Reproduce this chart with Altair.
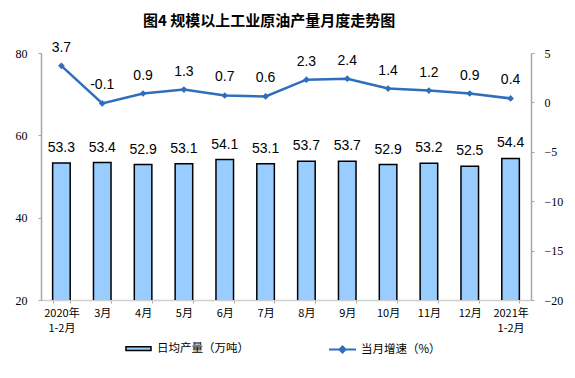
import altair as alt
import pandas as pd

categories = ["2020年\n1-2月", "3月", "4月", "5月", "6月", "7月", "8月", "9月",
              "10月", "11月", "12月", "2021年\n1-2月"]
output = [53.3, 53.4, 52.9, 53.1, 54.1, 53.1, 53.7, 53.7, 52.9, 53.2, 52.5, 54.4]
growth = [3.7, -0.1, 0.9, 1.3, 0.7, 0.6, 2.3, 2.4, 1.4, 1.2, 0.9, 0.4]

bar_name = "日均产量（万吨）"
line_name = "当月增速（%）"
blue = "#2f6dbd"
bar_fill = "#99ccff"

df = pd.DataFrame({"cat": categories, "output": output, "growth": growth,
                   "s_bar": bar_name, "s_line": line_name})

x_enc = alt.X(
    "cat:N", sort=categories, title=None,
    scale=alt.Scale(paddingInner=0.57),
    axis=alt.Axis(labelAngle=0, labelExpr="split(datum.label, '\\n')",
                  tickBand="extent", tickSize=3, tickColor="#a6a6a6",
                  domainColor="#cfcfcf", labelFont="Noto Sans CJK SC",
                  labelFontSize=11, labelColor="#000000", labelLineHeight=15,
                  labelPadding=4, labelOverlap=False),
)

y_left = alt.Scale(domain=[20, 80])
y_right = alt.Scale(domain=[-20, 5])

left_axis = alt.Axis(values=[20, 40, 60, 80], grid=False, tickSize=3,
                     domainColor="#a6a6a6", tickColor="#a6a6a6",
                     labelFont="Liberation Serif", labelFontSize=12,
                     labelColor="#000000", labelPadding=11)
right_axis = alt.Axis(orient="right", values=[-20, -15, -10, -5, 0, 5], grid=False,
                      tickSize=3, domainColor="#a6a6a6", tickColor="#a6a6a6",
                      labelFont="Liberation Serif", labelFontSize=12,
                      labelColor="#000000", labelPadding=10)

base = alt.Chart(df)

bars = base.mark_bar(stroke="black", strokeWidth=1.5, clip=True).encode(
    x=x_enc,
    y=alt.Y("output:Q", scale=y_left, title=None, axis=left_axis),
    fill=alt.Fill("s_bar:N", scale=alt.Scale(range=[bar_fill]),
                  legend=alt.Legend(title=None, orient="none", legendX=84, legendY=282,
                                    symbolType="M-1,-0.15H1V0.15H-1Z", symbolSize=625,
                                    symbolStrokeColor="black", symbolStrokeWidth=1.5,
                                    labelFont="Noto Sans CJK SC", labelFontSize=11.5,
                                    labelOffset=5, padding=0)),
)

bar_text = base.mark_text(dy=-8, baseline="bottom", font="Liberation Sans",
                          fontSize=14, color="black").encode(
    x=x_enc,
    y=alt.Y("output:Q", scale=y_left, title=None, axis=left_axis),
    text=alt.Text("output:Q", format=".1f"),
)

line = base.mark_line(strokeWidth=2.5).encode(
    x=x_enc,
    y=alt.Y("growth:Q", scale=y_right, title=None, axis=right_axis),
    stroke=alt.Stroke("s_line:N", scale=alt.Scale(range=[blue]),
                      legend=alt.Legend(title=None, orient="none", legendX=287, legendY=282,
                                        symbolType="M-1,0H1M-0.22,0L0,-0.22L0.22,0L0,0.22Z",
                                        symbolSize=729, symbolStrokeWidth=2,
                                        symbolFillColor=blue,
                                        labelFont="Noto Sans CJK SC", labelFontSize=11.5,
                                        labelOffset=4, padding=0)),
)

points = base.mark_point(shape="diamond", filled=True, size=45, color=blue, opacity=1).encode(
    x=x_enc,
    y=alt.Y("growth:Q", scale=y_right, title=None, axis=right_axis),
)

line_text = base.mark_text(dy=-11, baseline="bottom", font="Liberation Sans",
                           fontSize=14, color="black").encode(
    x=x_enc,
    y=alt.Y("growth:Q", scale=y_right, title=None, axis=right_axis),
    text=alt.Text("growth:N"),
)

left_group = alt.layer(bars, bar_text)
right_group = alt.layer(line, points, line_text)

chart = alt.layer(left_group, right_group).resolve_scale(
    y="independent", fill="independent", stroke="independent"
).properties(
    width=490, height=247,
    title=alt.TitleParams(text="图4  规模以上工业原油产量月度走势图",
                          font="Noto Sans CJK SC", fontSize=15, fontWeight="bold",
                          anchor="middle", dx=-17, offset=12, color="#000000"),
    autosize=alt.AutoSizeParams(type="none"),
    padding={"left": 41, "top": 53, "right": 44, "bottom": 78},
).configure_view(stroke=None).configure_axis(domainWidth=1.5)

chart.save("out.html", embed_options={"renderer": "svg", "actions": False})
